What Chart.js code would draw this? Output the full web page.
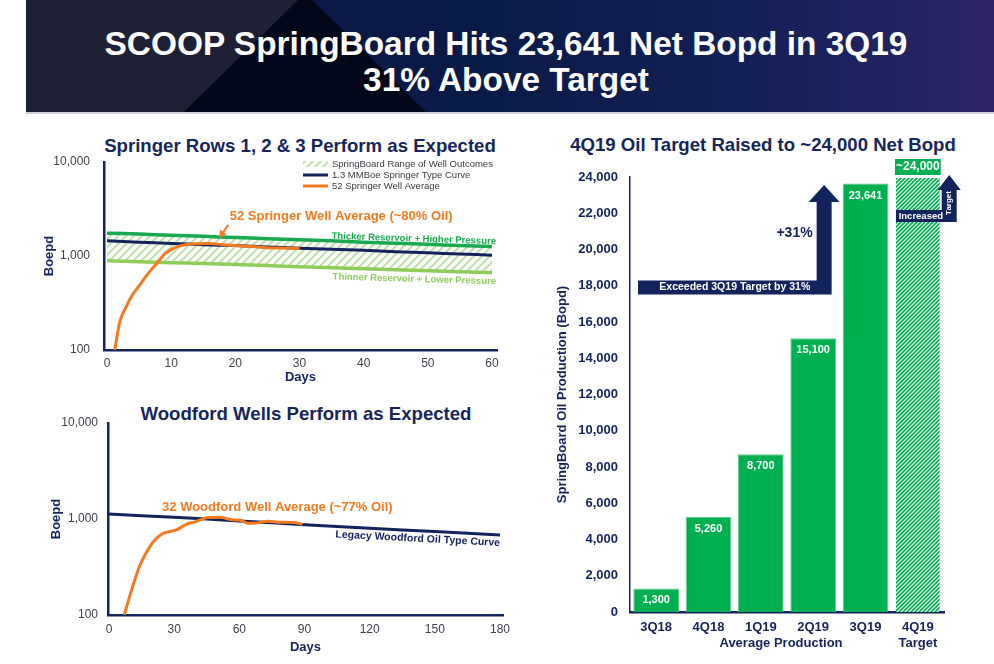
<!DOCTYPE html>
<html><head><meta charset="utf-8"><title>SCOOP SpringBoard</title>
<script src="https://cdn.jsdelivr.net/npm/chart.js@4.4.1/dist/chart.umd.min.js"></script>
<style>
html,body{margin:0;padding:0;background:#fff;width:994px;height:664px;overflow:hidden;font-family:"Liberation Sans",Arial,sans-serif;}
#header{position:absolute;left:26px;top:0;width:968px;height:112px;background:linear-gradient(90deg,#0a1640 0%,#0a1a47 45%,#111f52 70%,#1f2360 88%,#2d2567 100%);overflow:hidden}
.seg1{position:absolute;left:0;top:0;width:100%;height:100%;background:#1e2036;clip-path:polygon(0 0,272px 0,158px 112px,0 112px)}
.seg2{position:absolute;left:0;top:0;width:100%;height:100%;background:#03071a;clip-path:polygon(272px 0,286px 0,400px 112px,158px 112px)}
#htitle{position:absolute;left:-4px;width:968px;top:26px;text-align:center;color:#fff;font-weight:bold;font-size:33.4px;line-height:36px;white-space:nowrap}
.rule{position:absolute;left:26px;top:112px;width:968px;height:2px;background:#cdd0d8}
.ctitle{position:absolute;font-weight:bold;color:#16265c;font-size:18.6px;line-height:22px;white-space:nowrap;transform:translateX(-50%)}
canvas{position:absolute}
</style></head>
<body>
<div id="header"><div class="seg1"></div><div class="seg2"></div>
<div id="htitle">SCOOP SpringBoard Hits 23,641 Net Bopd in 3Q19<br>31% Above Target</div></div>
<div class="rule"></div>
<div class="ctitle" style="left:300px;top:135px">Springer Rows 1, 2 &amp; 3 Perform as Expected</div>
<div class="ctitle" style="left:306px;top:403px">Woodford Wells Perform as Expected</div>
<div class="ctitle" style="left:763px;top:134px">4Q19 Oil Target Raised to ~24,000 Net Bopd</div>
<canvas id="c1" width="530" height="262" style="left:0;top:130px;width:530px;height:262px"></canvas>
<canvas id="c2" width="530" height="264" style="left:0;top:400px;width:530px;height:264px"></canvas>
<canvas id="c3" width="454" height="509" style="left:540px;top:155px;width:454px;height:509px"></canvas>
<script>
// ---------- data ----------
const springerDays = [0,5,10,15,20,25,30,35,40,45,50,55,60];
const thickerReservoir = [1750,1710,1660,1620,1570,1530,1490,1450,1400,1370,1330,1290,1260];
const thinnerReservoir = [890,870,850,830,810,790,770,750,730,715,695,680,665];
const springerTypeCurve = [1450,1400,1360,1320,1290,1250,1210,1180,1150,1110,1080,1050,1020];
const springerAvgDays = [1.2,2,3,4,5,6,7,8,9,10,11,12,14,16,18,20,22,24,26,28,30];
const springerAvg = [100,200,290,390,480,600,730,870,1050,1170,1260,1310,1350,1360,1320,1290,1270,1240,1220,1210,1200];
const springerXTicks = [0,10,20,30,40,50,60];
const logYTicks = [100,1000,10000];

const woodfordDays = [0,30,60,90,120,150,180];
const woodfordTypeCurve = [1130,1040,955,870,800,740,680];
const woodfordAvgDays = [7,10,14,17,21,25,28,31,36,40,45,51,57,60,64,67,73,79,85,89];
const woodfordAvg = [100,170,320,440,600,710,740,770,890,940,1030,1040,980,975,905,905,950,925,920,880];
const woodfordXTicks = [0,30,60,90,120,150,180];

const quarters = ['3Q18','4Q18','1Q19','2Q19','3Q19',['4Q19','Target']];
const production = [1300,5260,8700,15100,23641,24000];
const productionLabels = ['1,300','5,260','8,700','15,100','23,641','~24,000'];
const exceededLevel = 17900;
const increasedLevel = 21850;

// ---------- styles ----------
const FONT = '"Liberation Sans", Arial, sans-serif';
Chart.defaults.font.family = FONT;
const NAVY = '#13235b', ORANGE = '#f47a20', GREEN_DK = '#19a94f', GREEN_LT = '#8fcd5a', BAR_GREEN = '#00b050', TICK = '#3e3f4a';

function pts(xs, ys){ return xs.map((x,i)=>({x:x, y:ys[i]})); }
function hatch(color, bg, size, lw){
  const c = document.createElement('canvas'); c.width = c.height = size;
  const g = c.getContext('2d');
  if (bg){ g.fillStyle = bg; g.fillRect(0,0,size,size); }
  g.strokeStyle = color; g.lineWidth = lw; g.beginPath();
  g.moveTo(-size, size*2); g.lineTo(size*2, -size);
  g.moveTo(-size, size); g.lineTo(size, -size);
  g.moveTo(0, size*2); g.lineTo(size*2, 0);
  g.stroke();
  return g.createPattern(c, 'repeat');
}
const fmt = v => Number(v).toLocaleString('en-US');
const bandPattern = hatch('#c2e2af', null, 8, 2.2);
const barHatch = hatch(BAR_GREEN, '#ffffff', 4, 1.7);

function arrowLine(ctx, x0, y0, x1, y1, color){
  ctx.strokeStyle = color; ctx.fillStyle = color; ctx.lineWidth = 2;
  const dx = x1-x0, dy = y1-y0, L = Math.hypot(dx,dy), ux = dx/L, uy = dy/L;
  const hl = 7, hw = 4;
  ctx.beginPath(); ctx.moveTo(x0,y0); ctx.lineTo(x1-ux*hl, y1-uy*hl); ctx.stroke();
  ctx.beginPath(); ctx.moveTo(x1,y1);
  ctx.lineTo(x1-ux*hl-uy*hw, y1-uy*hl+ux*hw);
  ctx.lineTo(x1-ux*hl+uy*hw, y1-uy*hl-ux*hw);
  ctx.closePath(); ctx.fill();
}
function slantText(ctx, txt, xScale, yScale, xa, ya, xb, yb, px, py, color, font){
  const ang = Math.atan2(yScale.getPixelForValue(yb)-yScale.getPixelForValue(ya), xScale.getPixelForValue(xb)-xScale.getPixelForValue(xa));
  ctx.save();
  ctx.translate(px, py); ctx.rotate(ang);
  ctx.font = font; ctx.fillStyle = color; ctx.textAlign = 'right'; ctx.textBaseline = 'middle';
  ctx.fillText(txt, 0, 0);
  ctx.restore();
}

function logAxis(width, pad, titlePad){
  return {type:'logarithmic', min:100, max:10000,
    afterBuildTicks: s => { s.ticks = logYTicks.map(v=>({value:v})); },
    afterFit: s => { s.width = width; },
    grid:{display:false, drawTicks:false}, border:{color:NAVY, width:2.5},
    ticks:{padding:pad, color:TICK, font:{size:12}, callback: v => fmt(v)},
    title:{display:true, text:'Boepd', color:NAVY, font:{size:13, weight:'bold'}, padding:{top:titlePad, bottom:0}}};
}
function dayAxis(min, max, tickVals, height, pad, titlePad){
  return {type:'linear', min:min, max:max,
    afterBuildTicks: s => { s.ticks = tickVals.map(v=>({value:v})); },
    afterFit: s => { s.height = height; },
    grid:{display:false, drawTicks:false}, border:{color:NAVY, width:2.5},
    ticks:{padding:pad, color:TICK, font:{size:12}, callback: v => fmt(v)},
    title:{display:true, text:'Days', color:NAVY, font:{size:13, weight:'bold'}, padding:{top:0, bottom:titlePad}}};
}
const baseOpts = {responsive:false, animation:false, events:[],
  elements:{point:{radius:0}, line:{tension:0.3}},
  plugins:{legend:{display:false}, tooltip:{enabled:false}}};

// ---------- Chart 1: Springer ----------
const springerNotes = {id:'springerNotes', afterDatasetsDraw(chart){
  const {ctx, chartArea:a, scales:{x, y}} = chart;
  const ds = chart.data.datasets;
  ctx.save();
  const sx = a.right - 194, tx = a.right - 165, r = [a.top+2, a.top+13, a.top+24];
  ctx.fillStyle = bandPattern; ctx.fillRect(sx, r[0]-3, 25, 6);
  ctx.lineWidth = 3;
  ctx.strokeStyle = NAVY; ctx.beginPath(); ctx.moveTo(sx, r[1]); ctx.lineTo(sx+25, r[1]); ctx.stroke();
  ctx.strokeStyle = ORANGE; ctx.beginPath(); ctx.moveTo(sx, r[2]); ctx.lineTo(sx+25, r[2]); ctx.stroke();
  ctx.font = '9.5px ' + FONT; ctx.fillStyle = '#3a3a42'; ctx.textAlign = 'left'; ctx.textBaseline = 'middle';
  ctx.fillText(ds[1].label, tx, r[0]); ctx.fillText(ds[2].label, tx, r[1]); ctx.fillText(ds[3].label, tx, r[2]);
  const n = springerDays.length - 1;
  slantText(ctx, 'Thicker Reservoir + Higher Pressure', x, y, 40, thickerReservoir[n-4], 60, thickerReservoir[n],
            a.right - 1, y.getPixelForValue(thickerReservoir[n]) - 5, GREEN_DK, 'bold 9.5px ' + FONT);
  slantText(ctx, 'Thinner Reservoir + Lower Pressure', x, y, 40, thinnerReservoir[n-4], 60, thinnerReservoir[n],
            a.right - 1, y.getPixelForValue(thinnerReservoir[n]) + 9, GREEN_LT, 'bold 9.5px ' + FONT);
  ctx.font = 'bold 13px ' + FONT; ctx.fillStyle = ORANGE; ctx.textAlign = 'center';
  ctx.fillText('52 Springer Well Average (~80% Oil)', x.getPixelForValue(36.5), y.getPixelForValue(2660));
  const tipX = x.getPixelForValue(17.5), tipY = y.getPixelForValue(1560);
  arrowLine(ctx, tipX + 9, tipY - 13, tipX, tipY, ORANGE);
  ctx.restore();
}};
new Chart(document.getElementById('c1'), {
  type:'line',
  data:{datasets:[
    {label:'Thicker Reservoir', data:pts(springerDays, thickerReservoir), borderColor:GREEN_DK, borderWidth:3.5, fill:false, order:2},
    {label:'SpringBoard Range of Well Outcomes', data:pts(springerDays, thinnerReservoir), borderColor:GREEN_LT, borderWidth:3.5, backgroundColor:bandPattern, fill:'-1', order:3},
    {label:'1.3 MMBoe Springer Type Curve', data:pts(springerDays, springerTypeCurve), borderColor:NAVY, borderWidth:3, fill:false, order:1},
    {label:'52 Springer Well Average', data:pts(springerAvgDays, springerAvg), borderColor:ORANGE, borderWidth:3, fill:false, order:0, cubicInterpolationMode:'monotone'}
  ]},
  options:Object.assign({}, baseOpts, {
    layout:{padding:{top:32, right:33, left:0, bottom:0}},
    scales:{x:dayAxis(-0.47, 60.78, springerXTicks, 42, 6, 7), y:logAxis(104, 14, 42)}
  }),
  plugins:[springerNotes]
});

// ---------- Chart 2: Woodford ----------
const woodfordNotes = {id:'woodfordNotes', afterDatasetsDraw(chart){
  const {ctx, chartArea:a, scales:{x, y}} = chart;
  ctx.save();
  const n = woodfordDays.length - 1;
  slantText(ctx, 'Legacy Woodford Oil Type Curve', x, y, woodfordDays[n-2], woodfordTypeCurve[n-2], woodfordDays[n], woodfordTypeCurve[n],
            a.right - 3, y.getPixelForValue(woodfordTypeCurve[n]) + 8, NAVY, 'bold 10.5px ' + FONT);
  ctx.font = 'bold 13px ' + FONT; ctx.fillStyle = ORANGE; ctx.textAlign = 'center'; ctx.textBaseline = 'middle';
  ctx.fillText('32 Woodford Well Average (~77% Oil)', x.getPixelForValue(77.5), y.getPixelForValue(1334));
  ctx.restore();
}};
new Chart(document.getElementById('c2'), {
  type:'line',
  data:{datasets:[
    {label:'Legacy Woodford Oil Type Curve', data:pts(woodfordDays, woodfordTypeCurve), borderColor:NAVY, borderWidth:3, fill:false, order:1},
    {label:'32 Woodford Well Average', data:pts(woodfordAvgDays, woodfordAvg), borderColor:ORANGE, borderWidth:3, fill:false, order:0, cubicInterpolationMode:'monotone'}
  ]},
  options:Object.assign({}, baseOpts, {
    layout:{padding:{top:23, right:27, left:0, bottom:0}},
    scales:{x:dayAxis(-0.46, 181.38, woodfordXTicks, 49, 7, 9), y:logAxis(108, 10, 49)}
  }),
  plugins:[woodfordNotes]
});

// ---------- Chart 3: bars ----------
const barNotes = {id:'barNotes', afterDatasetsDraw(chart){
  const {ctx, chartArea:a, scales:{x, y}} = chart;
  const meta = chart.getDatasetMeta(0);
  const last = production.length - 1;
  ctx.save();
  ctx.textAlign = 'center'; ctx.textBaseline = 'middle';
  meta.data.forEach((bar, i) => {
    if (i === last){
      ctx.fillStyle = BAR_GREEN; ctx.fillRect(bar.x - bar.width/2, bar.y - 18, bar.width, 16);
      ctx.fillStyle = '#fff'; ctx.font = 'bold 12px ' + FONT;
      ctx.fillText(productionLabels[i], bar.x, bar.y - 10);
    } else {
      ctx.fillStyle = '#fff'; ctx.font = 'bold 11px ' + FONT;
      ctx.fillText(productionLabels[i], bar.x, bar.y + 12);
    }
  });
  // big arrow: exceeded target
  const b3 = meta.data[last-1], b4 = meta.data[last], bw = b3.width;
  const l3 = b3.x - bw/2;
  const sL = l3 - 26, sR = l3 - 11, hL = l3 - 34, hR = l3 - 3, cx = (sL + sR)/2;
  const tip = y.getPixelForValue(production[last-1]) + 1.5, hb = tip + 17;
  const yc = y.getPixelForValue(exceededLevel), hT = yc - 7, hB = yc + 7, xL = a.left + 8;
  ctx.fillStyle = NAVY; ctx.beginPath();
  ctx.moveTo(xL, hT); ctx.lineTo(sL, hT); ctx.lineTo(sL, hb); ctx.lineTo(hL, hb); ctx.lineTo(cx, tip);
  ctx.lineTo(hR, hb); ctx.lineTo(sR, hb); ctx.lineTo(sR, hB); ctx.lineTo(xL, hB); ctx.closePath(); ctx.fill();
  ctx.fillStyle = '#fff'; ctx.font = 'bold 10.5px ' + FONT;
  ctx.fillText('Exceeded 3Q19 Target by 31%', (xL + sR)/2, yc);
  ctx.fillStyle = NAVY; ctx.font = 'bold 14px ' + FONT; ctx.textAlign = 'right';
  ctx.fillText('+31%', sL - 4, y.getPixelForValue(20900));
  // small arrow: increased target
  const r4 = b4.x + bw/2;
  const s2L = r4 + 1, s2R = r4 + 16, h2L = r4 - 3, h2R = r4 + 20, c2 = (s2L + s2R)/2;
  const tip2 = y.getPixelForValue(production[last]) - 2, hb2 = tip2 + 15;
  const yc2 = y.getPixelForValue(increasedLevel), t2 = yc2 - 6, b2 = yc2 + 6, x2L = b4.x - bw/2 + 1;
  ctx.fillStyle = NAVY; ctx.beginPath();
  ctx.moveTo(x2L, t2); ctx.lineTo(s2L, t2); ctx.lineTo(s2L, hb2); ctx.lineTo(h2L, hb2); ctx.lineTo(c2, tip2);
  ctx.lineTo(h2R, hb2); ctx.lineTo(s2R, hb2); ctx.lineTo(s2R, b2); ctx.lineTo(x2L, b2); ctx.closePath(); ctx.fill();
  ctx.fillStyle = '#fff'; ctx.font = 'bold 9.5px ' + FONT; ctx.textAlign = 'center';
  ctx.fillText('Increased', (x2L + s2L)/2 + 2, yc2);
  ctx.save(); ctx.translate(c2, (hb2 + yc2)/2); ctx.rotate(-Math.PI/2);
  ctx.font = 'bold 8px ' + FONT; ctx.fillText('Target', 0, 0); ctx.restore();
  // axis caption
  ctx.fillStyle = NAVY; ctx.font = 'bold 13px ' + FONT; ctx.textAlign = 'center';
  ctx.fillText('Average Production', (x.getPixelForValue(2) + x.getPixelForValue(3))/2 - 6, a.bottom + 31.5);
  ctx.restore();
}};
new Chart(document.getElementById('c3'), {
  type:'bar',
  data:{labels:quarters, datasets:[{label:'SpringBoard Oil Production', data:production,
    backgroundColor: production.map((v,i)=> i === production.length-1 ? barHatch : BAR_GREEN),
    borderColor: production.map((v,i)=> i === production.length-1 ? 'rgba(0,0,0,0)' : '#63cc8a'),
    borderWidth:1, barPercentage:0.874, categoryPercentage:1}]},
  options:Object.assign({}, baseOpts, {
    layout:{padding:{top:22, right:50, left:0, bottom:0}},
    scales:{
      x:{type:'category', offset:true, afterFit: s => { s.height = 52; },
        grid:{display:false, drawTicks:false}, border:{color:NAVY, width:2.5},
        ticks:{padding:8, color:NAVY, font:{size:13, weight:'bold'}}},
      y:{min:0, max:24000, afterFit: s => { s.width = 90; },
        grid:{display:false, drawTicks:false}, border:{color:NAVY, width:1.5},
        ticks:{stepSize:2000, padding:12, color:NAVY, font:{size:13, weight:'bold'}, callback: v => fmt(v)},
        title:{display:true, text:'SpringBoard Oil Production (Bopd)', color:NAVY, font:{size:13, weight:'bold'}, padding:{top:15, bottom:0}}}
    }
  }),
  plugins:[barNotes]
});
</script>
</body></html>
